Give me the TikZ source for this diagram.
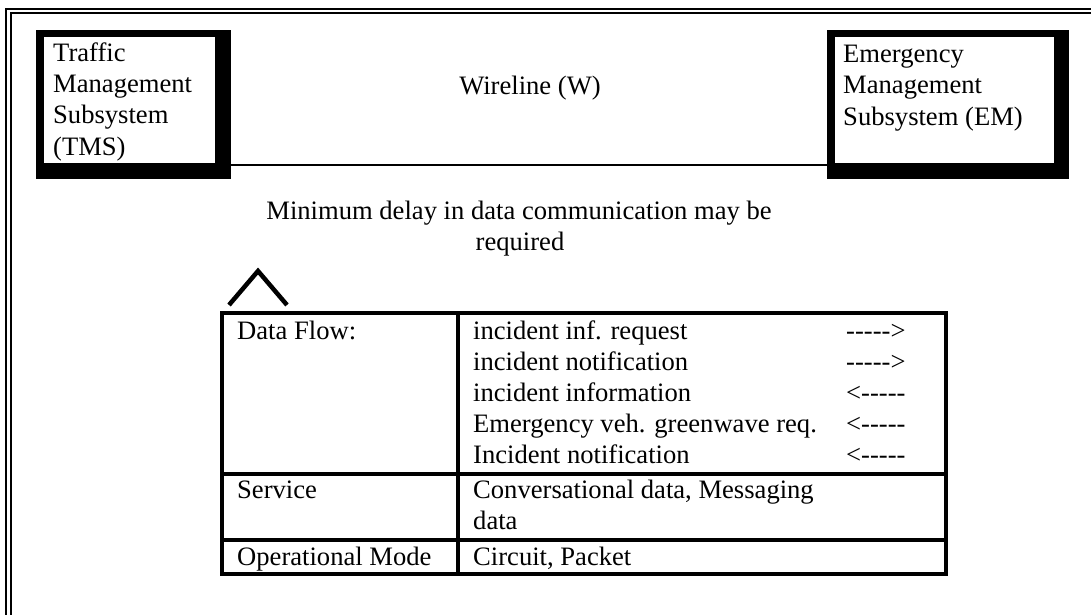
\documentclass[tikz,border=0pt]{standalone}
\usepackage{fontspec}
\setmainfont{Liberation Serif}[Ligatures=TeXOff]
\begin{document}
\begin{tikzpicture}[x=1pt,y=-1pt,
  txt/.style={anchor=base west,inner sep=0pt,font=\fontsize{26.6}{31}\selectfont},
  ctxt/.style={anchor=base,inner sep=0pt,font=\fontsize{26.6}{31}\selectfont},
  frameline/.style={line width=2pt},
  tabline/.style={line width=3.2pt},
  boxshadow/.style={fill=black},
  boxface/.style={fill=white,inner sep=0pt,anchor=north west}]
\useasboundingbox (0,0) rectangle (1091,615);
% outer double frame (cut at right and bottom)
\draw[frameline] (1091,9) -- (6,9) -- (6,615);
\draw[frameline] (1091,13) -- (10.5,13) -- (10.5,615);
% TMS box
\fill[boxshadow] (36,30) rectangle (231,179);
\node[boxface,minimum width=171pt,minimum height=126pt] (tms) at (44,37) {};
\node[txt] (t1) at (53,62) {Traffic};
\node[txt] (t2) at (53,93) {Management};
\node[txt] (t3) at (53,124) {Subsystem};
\node[txt] (t4) at (53,155) {(TMS)};
% EM box
\fill[boxshadow] (827,30) rectangle (1069,179);
\node[boxface,minimum width=219pt,minimum height=126pt] (em) at (835,37) {};
\node[txt] (e1) at (843,63) {Emergency};
\node[txt] (e2) at (843,94) {Management};
\node[txt] (e3) at (843,125) {Subsystem (EM)};
% wireline
\coordinate (wl) at (231,164.5);
\coordinate (wr) at (827,164.5);
\draw[line width=2pt] (wl) -- (wr);
\node[ctxt] (wire) at (530,95) {Wireline (W)};
% note
\node[ctxt] (n1) at (519,219) {Minimum delay in data communication may be};
\node[ctxt] (n2) at (520,250) {required};
% caret
\coordinate (c1) at (229,305);
\coordinate (c2) at (258,271);
\coordinate (c3) at (287,305);
\draw[line width=4.5pt,line join=miter] (c1) -- (c2) -- (c3);
% table
\draw[tabline] (222,313) rectangle (946,574);
\draw[tabline] (458,313) -- (458,574);
\draw[tabline] (222,474) -- (946,474);
\draw[tabline] (222,540) -- (946,540);
\node[txt] (df) at (237,339) {Data Flow:};
\node[txt] (r1) at (473,339) {incident inf. request};
\node[txt] (r2) at (473,370) {incident notification};
\node[txt] (r3) at (473,401) {incident information};
\node[txt] (r4) at (473,432) {Emergency veh. greenwave req.};
\node[txt] (r5) at (473,463) {Incident notification};
\node[txt] (a1) at (846,339) {----->};
\node[txt] (a2) at (846,370) {----->};
\node[txt] (a3) at (846,401) {<-----};
\node[txt] (a4) at (846,432) {<-----};
\node[txt] (a5) at (846,463) {<-----};
\node[txt] (sv) at (237,498) {Service};
\node[txt] (s1) at (473,498) {Conversational data, Messaging};
\node[txt] (s2) at (473,529) {data};
\node[txt] (om) at (237,565) {Operational Mode};
\node[txt] (o1) at (473,565) {Circuit, Packet};
\end{tikzpicture}
\end{document}
